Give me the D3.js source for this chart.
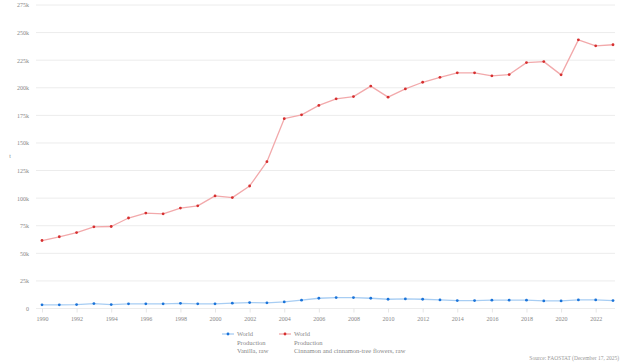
<!DOCTYPE html>
<html>
<head>
<meta charset="utf-8">
<script src="https://cdn.jsdelivr.net/npm/d3@7"></script>
<style>
  html, body { margin: 0; padding: 0; background: #fff; }
  svg { display: block; font-family: "Liberation Serif", "DejaVu Serif", serif; }
</style>
</head>
<body>
<div id="chart"></div>
<script>
// FAOSTAT world production: vanilla vs cinnamon, 1990–2023 (tonnes)
const years = d3.range(1990, 2024);
const vanilla = [3300, 3300, 3600, 4500, 3600, 4200, 4200, 4200, 4700, 4200, 4200,
  4800, 5400, 5100, 6000, 7500, 9300, 9900, 9900, 9300, 8400, 8700,
  8400, 7800, 7200, 7200, 7500, 7500, 7500, 6900, 6900, 7800, 7800, 7200];
const cinnamon = [61600, 65000, 68800, 74000, 74300, 82000, 86500, 85800, 91000, 93000, 102000,
  100500, 111000, 133000, 172000, 175500, 184000, 190000, 192000, 201500, 191500, 199000,
  205000, 209500, 213500, 213500, 210800, 212000, 222800, 223700, 211700, 243400, 238000, 239000];
const yTicks = [0, 25000, 50000, 75000, 100000, 125000, 150000, 175000, 200000, 225000, 250000, 275000];
const xTicks = d3.range(1990, 2024, 2);
const series = [
  { name: ["World", "Production", "Vanilla, raw"], values: vanilla, line: "#a7cdf3", dot: "#1a73d9" },
  { name: ["World", "Production", "Cinnamon and cinnamon-tree flowers, raw"], values: cinnamon, line: "#f2a9ab", dot: "#d62f2f" },
];

const W = 624, H = 364;
const M = { l: 36, r: 9 };
const x = d3.scaleLinear().domain([1990, 2023]).range([42, 613]);
const y = d3.scaleLinear().domain([0, 275000]).range([308.5, 5]);

const svg = d3.select("#chart").append("svg").attr("width", W).attr("height", H);

// gridlines
svg.append("g").selectAll("line").data(yTicks).join("line")
  .attr("x1", M.l).attr("x2", W - M.r)
  .attr("y1", d => y(d)).attr("y2", d => y(d))
  .attr("stroke", "#ececec").attr("stroke-width", 1);

// y axis labels
const yAxis = d3.axisLeft(y).tickValues(yTicks)
  .tickFormat(d => d === 0 ? "0" : d / 1000 + "k").tickSize(0).tickPadding(0);
svg.append("g").attr("transform", "translate(29,0)").call(yAxis)
  .call(g => g.select(".domain").remove())
  .selectAll("text").attr("fill", "#888").style("font-size", "6px")
  .style("font-family", "Liberation Serif, serif");

svg.append("text").attr("x", 10).attr("y", 158).attr("text-anchor", "middle")
  .attr("fill", "#888").style("font-size", "6px").text("t");

// x axis
const xAxis = d3.axisBottom(x).tickValues(xTicks).tickFormat(d3.format("d"))
  .tickSize(4).tickPadding(4);
svg.append("g").attr("transform", `translate(0,${y(0)})`).call(xAxis)
  .call(g => g.select(".domain").remove())
  .call(g => g.selectAll("line").attr("stroke", "#e6e6e6"))
  .selectAll("text").attr("fill", "#888").style("font-size", "6px")
  .style("font-family", "Liberation Serif, serif");

// series
const line = d3.line().x((d, i) => x(years[i])).y(d => y(d));
series.forEach(s => {
  svg.append("path").datum(s.values).attr("d", line)
    .attr("fill", "none").attr("stroke", s.line).attr("stroke-width", 1.3)
    .attr("stroke-linejoin", "round");
  svg.append("g").selectAll("circle").data(s.values).join("circle")
    .attr("cx", (d, i) => x(years[i])).attr("cy", d => y(d))
    .attr("r", 1.4).attr("fill", s.dot);
});

// legend
const legX = [222, 279];
series.forEach((s, k) => {
  const g = svg.append("g").attr("transform", `translate(${legX[k]},334)`);
  g.append("line").attr("x1", 0).attr("x2", 12).attr("y1", 0).attr("y2", 0)
    .attr("stroke", s.line).attr("stroke-width", 1.3);
  g.append("circle").attr("cx", 6).attr("cy", 0).attr("r", 1.4).attr("fill", s.dot);
  s.name.forEach((t, j) => {
    g.append("text").attr("x", 15).attr("y", 2 + j * 8.5)
      .attr("fill", "#888").style("font-size", "6.5px").text(t);
  });
});

svg.append("text").attr("x", 619).attr("y", 360).attr("text-anchor", "end")
  .attr("fill", "#999").style("font-size", "5.5px")
  .text("Source: FAOSTAT (December 17, 2025)");
</script>
</body>
</html>
